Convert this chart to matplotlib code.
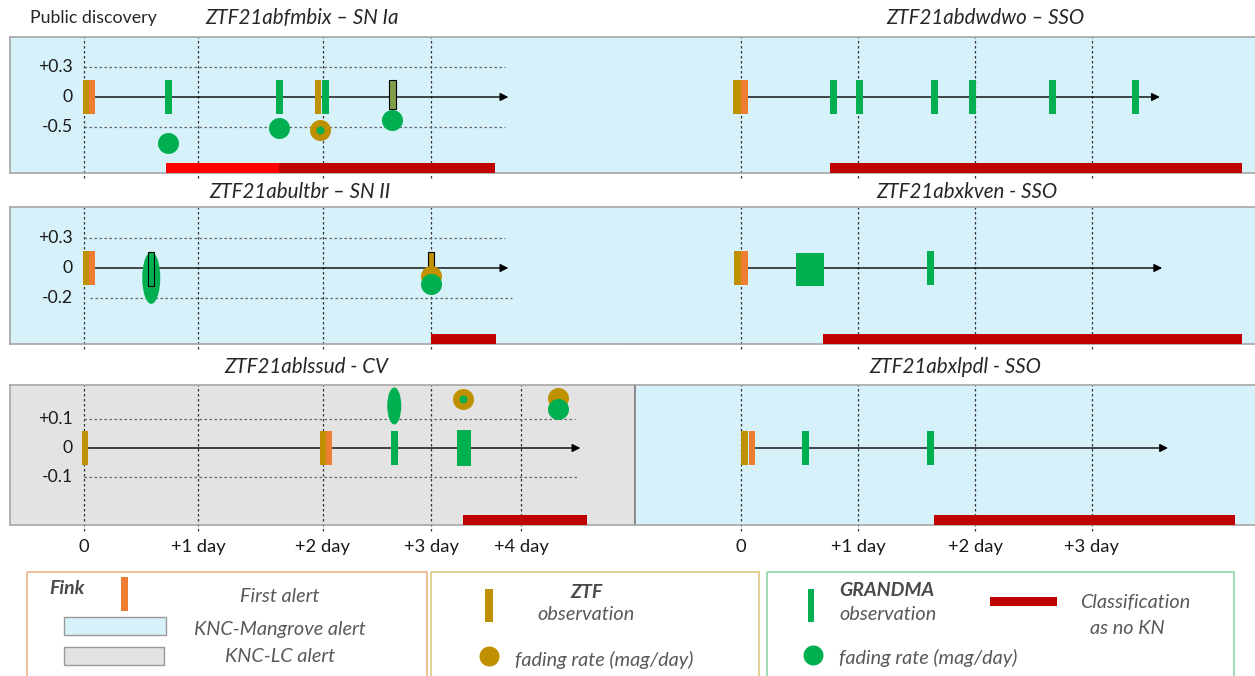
import numpy as np
import matplotlib.pyplot as plt
from matplotlib.patches import Ellipse, Rectangle

plt.rcParams['font.family'] = ['Lato', 'DejaVu Sans']

W, H = 1255, 676

BLUE_BG = '#d6f1fa'
GRAY_BG = '#e3e3e3'
FINK = '#ed7d31'
ZTF = '#bf9000'
GRANDMA = '#00b050'
RED = '#ff0000'
DARK_RED = '#c00000'
OLIVE = '#82a04a'

# --- data: days since public discovery, y in schematic fading-rate levels ---
# ZTF21abfmbix - SN Ia
ia_ztf = [0.02, 1.96]
ia_fink = [0.07]
ia_grandma = [0.74, 1.65, 2.02]
ia_joint = [2.64]
ia_gr_fade_t = [0.74, 1.65, 2.64]
ia_gr_fade = [-1.53, -1.03, -0.77]
ia_ztf_ring_t = [1.98]
ia_ztf_ring = [-1.1]
ia_nokn_first = [0.72, 1.65]
ia_nokn = [1.65, 3.71]
ia_ylabels = ['+0.3', '0', '-0.5']

# ZTF21abultbr - SN II
ii_ztf = [0.02]
ii_fink = [0.07]
ii_grandma = [0.59]
ii_gr_oval_t = [0.59]
ii_gr_oval = [-0.33]
ii_ztf_short = [3.0]
ii_ztf_fade_t = [3.0]
ii_ztf_fade = [-0.27]
ii_gr_fade_t = [3.0]
ii_gr_fade = [-0.53]
ii_nokn = [3.0, 3.72]
ii_ylabels = ['+0.3', '0', '-0.2']

# ZTF21ablssud - CV
cv_ztf = [0.01, 2.0]
cv_fink = [2.06]
cv_grandma = [2.66]
cv_grandma_wide = [3.37]
cv_gr_oval_t = [2.66]
cv_gr_oval = [1.45]
cv_ztf_ring_t = [3.36]
cv_ztf_ring = [1.69]
cv_ztf_fade_t = [4.41]
cv_ztf_fade = [1.72]
cv_gr_fade_t = [4.41]
cv_gr_fade = [1.34]
cv_nokn = [3.36, 4.73]
cv_ylabels = ['+0.1', '0', '-0.1']

# ZTF21abdwdwo - SSO
dw_ztf = [-0.03]
dw_fink = [0.03]
dw_grandma = [0.79, 1.01, 1.65, 1.98, 2.66, 3.37]
dw_nokn = [0.76, 4.28]

# ZTF21abxkven - SSO
kv_ztf = [-0.03]
kv_fink = [0.03]
kv_grandma_wide = [0.59]
kv_grandma = [1.62]
kv_nokn = [0.70, 4.28]

# ZTF21abxlpdl - SSO
lp_ztf = [0.03]
lp_fink = [0.09]
lp_grandma = [0.55, 1.62]
lp_nokn = [1.65, 4.22]

left_days = ['0', '+1 day', '+2 day', '+3 day', '+4 day']
right_days = ['0', '+1 day', '+2 day', '+3 day']

# hand-drawn spacing of the day guides in the left column
GUIDE_DAY = [0, 1, 2, 3, 4]
GUIDE_POS = [0, 1.0, 2.096, 3.044, 3.833]


def left_fwd(d):
    d = np.asarray(d, dtype=float)
    p = np.interp(d, GUIDE_DAY, GUIDE_POS)
    p = np.where(d < 0, d, p)
    return np.where(d > 4, GUIDE_POS[-1] + (d - 4) * 0.79, p)


def left_inv(p):
    p = np.asarray(p, dtype=float)
    d = np.interp(p, GUIDE_POS, GUIDE_DAY)
    d = np.where(p < 0, p, d)
    return np.where(p > GUIDE_POS[-1], 4 + (p - GUIDE_POS[-1]) / 0.79, d)


fig = plt.figure(figsize=(W / 100, H / 100), dpi=100)


def panel(x0, y0, x1, y1, bg, zero_y, ppl, left):
    ax = fig.add_axes([x0 / W, 1 - y1 / H, (x1 - x0) / W, (y1 - y0) / H], facecolor=bg)
    if left:
        ax.set_xscale('function', functions=(left_fwd, left_inv))
        ax.set_xlim(float(left_inv((x0 - 84) / 114)), float(left_inv((x1 - 84) / 114)))
    else:
        ax.set_xlim((x0 - 741) / 117, (x1 - 741) / 117)
    ax.set_ylim(-(y1 - zero_y) / ppl, (zero_y - y0) / ppl)
    ax.set_xticks([])
    ax.set_yticks([])
    for s in ax.spines.values():
        s.set_color('#a6a6a6')
        s.set_linewidth(1.2)
    ax.ppl = ppl
    return ax


def span(ax, x, w_px):
    X = ax.transData.transform((x, 0))[0]
    inv = ax.transData.inverted()
    return inv.transform((X - w_px / 2, 0))[0], inv.transform((X + w_px / 2, 0))[0]


def bars(ax, days, color, w_px=7, top=17, bottom=-17, z=3, **kw):
    for d in days:
        a, b = span(ax, d, w_px)
        ax.bar(a, (top - bottom) / ax.ppl, width=b - a, bottom=bottom / ax.ppl,
               align='edge', color=color, zorder=z, **kw)


def dots(ax, days, levels, color, d_px=21, z=5):
    ax.scatter(days, levels, s=(d_px * 0.72) ** 2, color=color, linewidths=0, zorder=z)


def ovals(ax, days, levels, color, w_px, h_px, z=4):
    for d, lv in zip(days, levels):
        a, b = span(ax, d, w_px)
        ax.add_patch(Ellipse(((a + b) / 2, lv), b - a, h_px / ax.ppl, color=color, lw=0, zorder=z))


def nokn(ax, rng, color=DARK_RED):
    y0 = ax.get_ylim()[0]
    ax.barh(y0, rng[1] - rng[0], left=rng[0], height=10 / ax.ppl, align='edge',
            color=color, zorder=3)


def guides(ax, days, arrow, hl=None, ylabels=None):
    for d in days:
        ax.axvline(d, ymin=-0.04, ymax=1, color='#333333', lw=0.9, ls=(0, (2, 2)),
                   clip_on=False, zorder=1)
    if hl is not None:
        for lv, (a, b) in hl:
            ax.hlines(lv, a, b, colors='#666666', lw=0.9, linestyles=(0, (2, 2)), zorder=1)
    if ylabels is not None:
        for lv, lab in zip([1, 0, -1], ylabels):
            ax.annotate(lab, (0, lv), xytext=(-11, 0), textcoords='offset pixels',
                        ha='right', va='center', fontsize=12.7, color='#1a1a1a')
    ax.annotate('', xy=(arrow[1], 0), xytext=(arrow[0], 0),
                arrowprops=dict(arrowstyle='-|>', lw=1.0, color='black',
                                mutation_scale=12, shrinkA=0, shrinkB=0), zorder=2)


# ---------- row 1 ----------
ax = panel(10, 37, 632, 173, BLUE_BG, 97, 30, True)
ax.spines['right'].set_visible(False)
guides(ax, [0, 1, 2, 3], (0.1, 3.86), [(1, (0, 3.82)), (-1, (0, 3.82))], ia_ylabels)
bars(ax, ia_ztf, ZTF, w_px=6)
bars(ax, ia_fink, FINK, w_px=6)
bars(ax, ia_grandma, GRANDMA)
bars(ax, ia_joint, OLIVE, top=17, bottom=-12, ec='black', lw=0.8)
dots(ax, ia_gr_fade_t, ia_gr_fade, GRANDMA)
dots(ax, ia_ztf_ring_t, ia_ztf_ring, ZTF)
dots(ax, ia_ztf_ring_t, ia_ztf_ring, GRANDMA, d_px=8, z=6)
nokn(ax, ia_nokn_first, RED)
nokn(ax, ia_nokn)

ax = panel(632, 37, 1255, 173, BLUE_BG, 97, 30, False)
ax.spines['left'].set_visible(False)
ax.spines['right'].set_visible(False)
guides(ax, [0, 1, 2, 3], (0.06, 3.58))
bars(ax, dw_ztf, ZTF, w_px=8)
bars(ax, dw_fink, FINK, w_px=7)
bars(ax, dw_grandma, GRANDMA)
nokn(ax, dw_nokn)

# ---------- row 2 ----------
ax = panel(10, 207, 632, 344, BLUE_BG, 268, 30, True)
ax.spines['right'].set_visible(False)
guides(ax, [0, 1, 2, 3], (0.1, 3.86), [(1, (0, 3.82)), (-1, (0.05, 3.9))], ii_ylabels)
bars(ax, ii_ztf, ZTF, w_px=6)
bars(ax, ii_fink, FINK, w_px=6)
ovals(ax, ii_gr_oval_t, ii_gr_oval, GRANDMA, 18, 52)
bars(ax, ii_grandma, GRANDMA, w_px=6, top=16, bottom=-18, z=5, ec='black', lw=0.8)
bars(ax, ii_ztf_short, ZTF, w_px=6, top=16, bottom=-4, ec='black', lw=0.8)
dots(ax, ii_ztf_fade_t, ii_ztf_fade, ZTF)
dots(ax, ii_gr_fade_t, ii_gr_fade, GRANDMA, z=6)
nokn(ax, ii_nokn)

ax = panel(632, 207, 1255, 344, BLUE_BG, 268, 30, False)
ax.spines['left'].set_visible(False)
ax.spines['right'].set_visible(False)
guides(ax, [0, 1, 2, 3], (0.06, 3.6))
bars(ax, kv_ztf, ZTF, w_px=7)
bars(ax, kv_fink, FINK, w_px=7)
bars(ax, kv_grandma_wide, GRANDMA, w_px=28, top=15, bottom=-18)
bars(ax, kv_grandma, GRANDMA)
nokn(ax, kv_nokn)

# ---------- row 3 ----------
ax = panel(10, 385, 635, 525, GRAY_BG, 448, 29, True)
ax.spines['right'].set_color('#8c8c8c')
guides(ax, [0, 1, 2, 3, 4], (0.04, 4.66), [(1, (0, 4.6)), (-1, (0, 4.63))], cv_ylabels)
bars(ax, cv_ztf, ZTF, w_px=6)
bars(ax, cv_fink, FINK, w_px=6)
bars(ax, cv_grandma, GRANDMA)
bars(ax, cv_grandma_wide, GRANDMA, w_px=14, top=18, bottom=-18)
ovals(ax, cv_gr_oval_t, cv_gr_oval, GRANDMA, 14, 37)
dots(ax, cv_ztf_ring_t, cv_ztf_ring, ZTF)
dots(ax, cv_ztf_ring_t, cv_ztf_ring, GRANDMA, d_px=8, z=6)
dots(ax, cv_ztf_fade_t, cv_ztf_fade, ZTF)
dots(ax, cv_gr_fade_t, cv_gr_fade, GRANDMA, z=6)
nokn(ax, cv_nokn)
ax.set_xticks(range(len(left_days)), left_days)
ax.tick_params(axis='x', length=0, pad=10, labelsize=13.2, labelcolor='#1a1a1a')

ax = panel(635, 385, 1255, 525, BLUE_BG, 448, 29, False)
ax.spines['left'].set_color('#7f7f7f')
ax.spines['right'].set_visible(False)
guides(ax, [0, 1, 2, 3], (0.11, 3.65))
bars(ax, lp_ztf, ZTF, w_px=7)
bars(ax, lp_fink, FINK, w_px=6)
bars(ax, lp_grandma, GRANDMA)
nokn(ax, lp_nokn)
ax.set_xticks(range(len(right_days)), right_days)
ax.tick_params(axis='x', length=0, pad=10, labelsize=13.2, labelcolor='#1a1a1a')

# ---------- titles and legend (pixel overlay) ----------
lg = fig.add_axes([0, 0, 1, 1])
lg.set_xlim(0, W)
lg.set_ylim(H, 0)
lg.axis('off')

title_kw = dict(fontsize=14.8, style='italic', color='#262626', ha='center', va='center')
lg.text(302, 18, 'ZTF21abfmbix – SN Ia', **title_kw)
lg.text(985, 18, 'ZTF21abdwdwo – SSO', **title_kw)
lg.text(300, 192, 'ZTF21abultbr – SN II', **title_kw)
lg.text(967, 192, 'ZTF21abxkven - SSO', **title_kw)
lg.text(306, 367, 'ZTF21ablssud - CV', **title_kw)
lg.text(955, 367, 'ZTF21abxlpdl - SSO', **title_kw)
lg.text(30, 18, 'Public discovery', fontsize=12.8, color='#262626', ha='left', va='center')

it = dict(fontsize=14.3, style='italic', color='#595959', va='center')
bold = dict(fontsize=14, style='italic', weight='bold', color='#4a4a4a', va='center')

lg.add_patch(Rectangle((27, 572), 400, 110, fill=False, ec='#eeb48a', lw=1.2))
lg.text(49, 589, 'Fink', ha='left', **bold)
lg.add_patch(Rectangle((121, 577), 7, 34, fc=FINK, lw=0))
lg.text(280, 597, 'First alert', ha='center', **it)
lg.add_patch(Rectangle((64, 617), 102, 18, fc=BLUE_BG, ec='#9a9a9a', lw=1))
lg.text(280, 629, 'KNC-Mangrove alert', ha='center', **it)
lg.add_patch(Rectangle((64, 647), 100, 18, fc=GRAY_BG, ec='#9a9a9a', lw=1))
lg.text(280, 657, 'KNC-LC alert', ha='center', **it)

lg.add_patch(Rectangle((431, 572), 328, 110, fill=False, ec='#dccb84', lw=1.2))
lg.add_patch(Rectangle((485, 589), 8, 33, fc=ZTF, lw=0))
lg.text(586, 592, 'ZTF', ha='center', **bold)
lg.text(586, 615, 'observation', ha='center', **it)
lg.scatter([489], [656], s=(20 * 0.72) ** 2, color=ZTF, linewidths=0)
lg.text(515, 660, 'fading rate (mag/day)', ha='left', **it)

lg.add_patch(Rectangle((767, 572), 467, 110, fill=False, ec='#8fd4a8', lw=1.2))
lg.add_patch(Rectangle((808, 589), 6, 33, fc=GRANDMA, lw=0))
lg.text(839, 591, 'GRANDMA', ha='left', **bold)
lg.text(839, 615, 'observation', ha='left', **it)
lg.add_patch(Rectangle((990, 597), 67, 9, fc=DARK_RED, lw=0))
lg.text(1135, 602, 'Classification', ha='center', **it)
lg.text(1127, 628, 'as no KN', ha='center', **it)
lg.scatter([813], [655], s=(20 * 0.72) ** 2, color=GRANDMA, linewidths=0)
lg.text(839, 658, 'fading rate (mag/day)', ha='left', **it)

fig.savefig('out.png', dpi=100, facecolor='white')
